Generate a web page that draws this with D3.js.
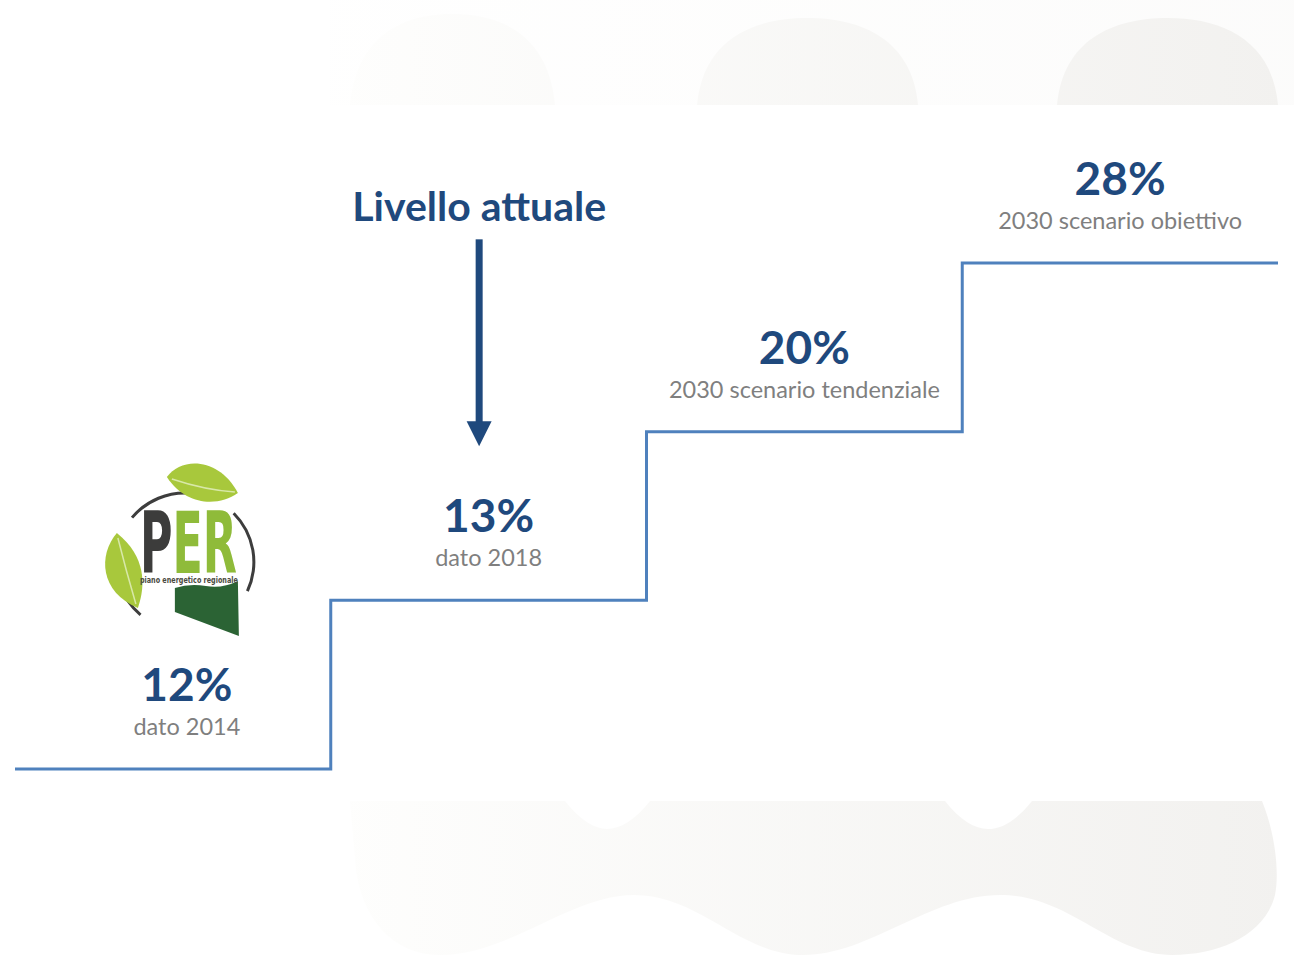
<!DOCTYPE html>
<html>
<head>
<meta charset="utf-8">
<script src="https://cdn.jsdelivr.net/npm/d3@7"></script>
<style>
  body { margin: 0; background: #fff; }
  svg { display: block; }
</style>
</head>
<body>
<div class="canvas"></div>
<script>
// chart data
const labels = ['dato 2014', 'dato 2018', '2030 scenario tendenziale', '2030 scenario obiettivo'];
const values = [12, 13, 20, 28];
const levels = [0, 1, 2, 3];
const current = 1; // "Livello attuale" points at dato 2018
const currentLabel = 'Livello attuale';

const width = 1294;
const height = 959;

const svg = d3.select('.canvas')
    .append('svg')
    .attr('width', width)
    .attr('height', height);

// background decoration
const defs = svg.append('defs');
const grad = defs.append('linearGradient')
    .attr('id', 'bg')
    .attr('gradientUnits', 'userSpaceOnUse')
    .attr('x1', 330).attr('x2', 1290).attr('y1', 0).attr('y2', 0);
grad.append('stop').attr('offset', 0).attr('stop-color', '#fefefd');
grad.append('stop').attr('offset', 1).attr('stop-color', '#f2f1ef');

const deco = svg.append('g').attr('fill', 'url(#bg)');
deco.append('rect').attr('x', 330).attr('y', 0).attr('width', 964).attr('height', 105)
    .attr('opacity', 0.25);
[[350, 555, 14], [697, 918, 18], [1057, 1278, 18]].forEach(([x0, x1, top]) => {
    const cx = (x0 + x1) / 2;
    deco.append('path')
        .attr('d', `M${x0},105 C${x0 + 6},40 ${cx - 55},${top} ${cx},${top} C${cx + 55},${top} ${x1 - 6},40 ${x1},105 Z`);
});
deco.append('path')
    .attr('d', 'M350,801 L565,801 C580,820 595,829 607,829 C620,829 635,820 650,801 ' +
        'L945,801 C960,820 975,829 988,829 C1002,829 1017,820 1032,801 ' +
        'L1262,801 C1274,830 1280,870 1275,895 C1265,935 1220,955 1172,955 ' +
        'C1110,955 1070,895 1000,895 C930,895 870,955 803,955 ' +
        'C740,955 700,895 634,895 C570,895 510,955 440,955 ' +
        'C390,955 362,915 356,870 Z');

// scales
const x = d3.scaleBand()
    .domain(d3.range(labels.length))
    .range([15, 1278]);

const y = d3.scaleLinear()
    .domain([0, d3.max(levels)])
    .range([769, 263]);

// first tread carries the logo, its label sits under the logo
const labelX = i => x(i) + x.bandwidth() / 2 + (i === 0 ? 14 : 0);

// stair line
const pts = levels.map((l, i) => [x(i), y(l)]);
pts.push([x.range()[1], y(levels[levels.length - 1])]);

svg.append('path')
    .attr('d', d3.line().curve(d3.curveStepAfter)(pts))
    .attr('fill', 'none')
    .attr('stroke', '#4f81bd')
    .attr('stroke-width', 3);

// labels on each step
const steps = svg.selectAll('g.step')
    .data(levels)
    .enter().append('g')
    .attr('class', 'step')
    .attr('transform', (d, i) => `translate(${labelX(i)},${y(d)})`)
    .attr('text-anchor', 'middle');

steps.append('text')
    .attr('y', -68)
    .attr('font-family', 'Lato')
    .attr('font-weight', 700)
    .attr('font-size', 46)
    .attr('fill', '#1f497d')
    .text((d, i) => values[i] + '%');

steps.append('text')
    .attr('y', -34)
    .attr('font-family', 'Lato')
    .attr('font-size', 23.5)
    .attr('fill', '#7f7f7f')
    .text((d, i) => labels[i]);

// current level annotation
const ax = x(current) + x.bandwidth() * 0.47;
const ay = y(levels[current]);
const ann = svg.append('g').attr('fill', '#1f497d');
ann.append('text')
    .attr('x', ax).attr('y', ay - 379)
    .attr('text-anchor', 'middle')
    .attr('font-family', 'Lato')
    .attr('font-weight', 700)
    .attr('font-size', 41)
    .text(currentLabel);
ann.append('rect')
    .attr('x', ax - 3.5).attr('y', ay - 361)
    .attr('width', 7).attr('height', 185);
ann.append('path')
    .attr('d', `M${ax - 12.5},${ay - 179} L${ax + 12.5},${ay - 179} L${ax},${ay - 154} Z`);

// PER logo
const logo = svg.append('g').attr('transform', `translate(${labelX(0) - 97},450)`);
const ring = d3.arc().innerRadius(67.5).outerRadius(70.5);
[[-50, 5], [45, 115], [220, 250]].forEach(([a0, a1]) => {
    logo.append('path')
        .attr('transform', 'translate(95,112)')
        .attr('d', ring({startAngle: a0 * Math.PI / 180, endAngle: a1 * Math.PI / 180}))
        .attr('fill', '#3d3d3d');
});
logo.append('path')
    .attr('d', 'M77,27 C92,6 130,8 148,43 C128,57 96,56 77,27 Z')
    .attr('fill', '#a8c83c');
logo.append('path')
    .attr('d', 'M82,29 Q115,40 145,42')
    .attr('fill', 'none').attr('stroke', '#d8e8a8').attr('stroke-width', 1.5);
logo.append('path')
    .attr('d', 'M27,83 C8,105 10,142 48,158 C56,135 56,106 27,83 Z')
    .attr('fill', '#a8c83c');
logo.append('path')
    .attr('d', 'M28,88 Q36,120 46,154')
    .attr('fill', 'none').attr('stroke', '#d8e8a8').attr('stroke-width', 1.5);
logo.append('path')
    .attr('d', 'M85,138 Q100,133 116,136 T148,131 L149,186 L85,162 Z')
    .attr('fill', '#2b6334');
const per = logo.append('text')
    .attr('x', 50).attr('y', 123)
    .attr('font-family', 'DejaVu Sans Condensed, DejaVu Sans')
    .attr('font-weight', 700)
    .attr('font-size', 86)
    .attr('textLength', 97).attr('lengthAdjust', 'spacingAndGlyphs');
per.append('tspan').attr('fill', '#3c3c3b').text('P');
per.append('tspan').attr('fill', '#8fbb3a').text('ER');
logo.append('text')
    .attr('x', 50).attr('y', 133)
    .attr('font-family', 'DejaVu Sans Condensed, DejaVu Sans')
    .attr('font-weight', 700)
    .attr('font-size', 8)
    .attr('textLength', 98).attr('lengthAdjust', 'spacingAndGlyphs')
    .attr('fill', '#4a4a40')
    .text('piano energetico regionale');
</script>
</body>
</html>
